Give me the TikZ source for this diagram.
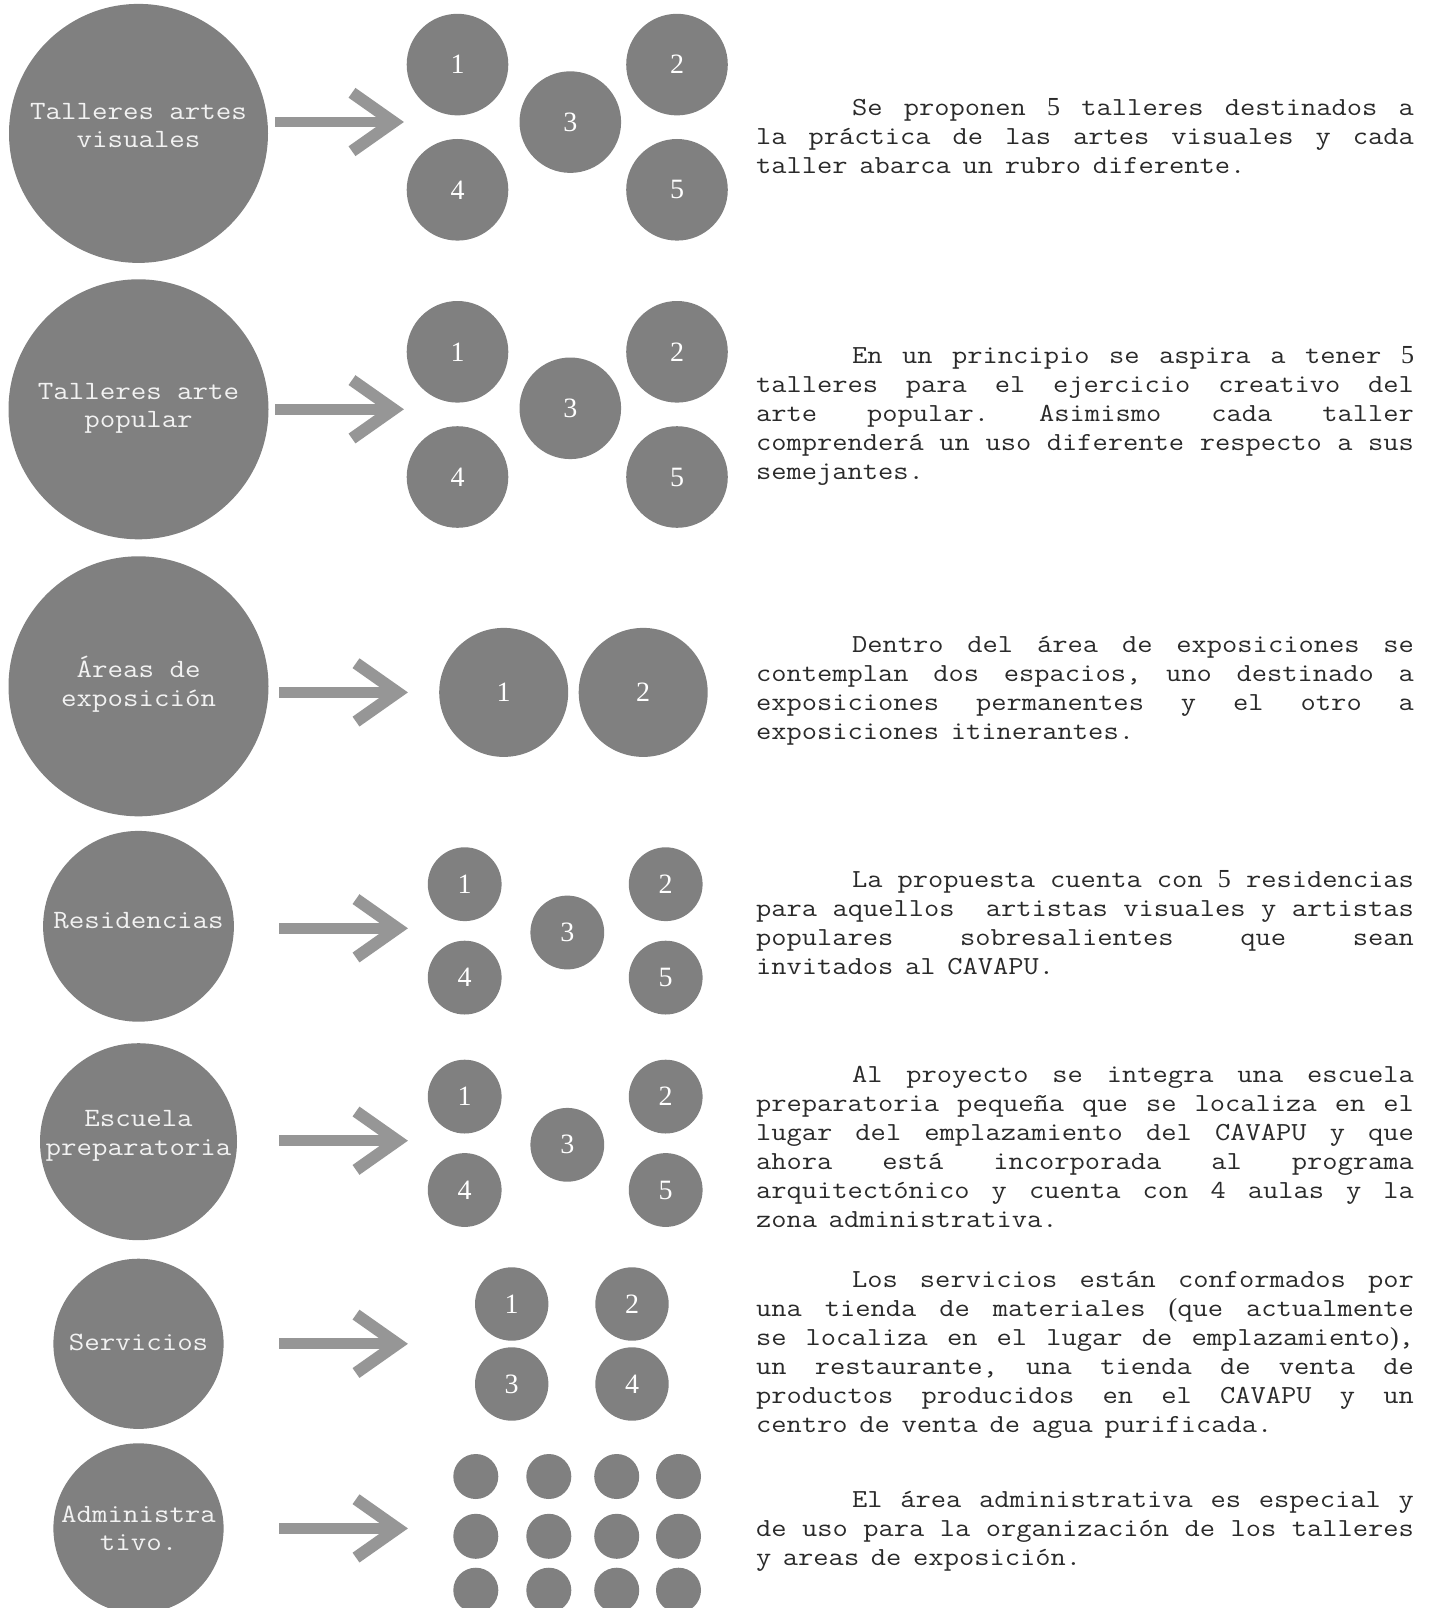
\documentclass[tikz,border=0pt]{standalone}
\usepackage{fontspec}
\usepackage{tikz}
\usepackage{xcolor}

\newfontfamily\couriertext{Latin Modern Mono}[FakeStretch=1.14]
\newfontfamily\timestext{Liberation Serif}

\definecolor{bubblegray}{RGB}{128,128,128}
\definecolor{arrowgray}{RGB}{150,150,150}
\definecolor{inkgray}{RGB}{42,42,42}
\definecolor{paletext}{RGB}{242,242,242}

\newcommand{\notefont}{\couriertext\fontsize{26}{29}\selectfont\frenchspacing
  \spaceskip=11.7pt plus 78pt minus 1pt\relax\hyphenpenalty=10000\tolerance=10000 }
\newcommand{\tabind}{\hspace*{96pt}}
\newcommand{\tnum}[1]{{\timestext #1}}

\tikzset{
  bigbub/.style={circle,fill=bubblegray,inner sep=0pt,minimum size=#1},
  numbub/.style={circle,fill=bubblegray,inner sep=0pt,minimum size=#1,text=white,
    font=\timestext\fontsize{28}{28}\selectfont},
  dotbub/.style={circle,fill=bubblegray,inner sep=0pt,minimum size=45pt},
  biglabel/.style={align=center,inner sep=0pt,text=paletext,
    font=\couriertext\fontsize{26.4}{28.7}\selectfont},
  shaft/.style={draw=arrowgray,line width=10.7pt},
  barb/.style={draw=arrowgray,line width=12pt,line join=miter},
  note/.style={text width=658pt,align=justify,inner sep=0pt,text=inkgray,font=\notefont}
}

\begin{document}
\begin{tikzpicture}[x=1pt,y=-1pt]
  \useasboundingbox (0,0) rectangle (1432,1608);
  \clip (0,0) rectangle (1432,1608);

  \node[bigbub=259pt] (tav) at (138.5,133.4) {};
  \node[biglabel] (tavl) at ([yshift=8pt]tav.center) {Talleres artes\\visuales};
  \node[numbub=101.6pt] (tav1) at (457.5,64.6) {1};
  \node[numbub=101.6pt] (tav2) at (677,64.6) {2};
  \node[numbub=101.6pt] (tav3) at (570.3,122.1) {3};
  \node[numbub=101.6pt] (tav4) at (457.5,189.8) {4};
  \node[numbub=101.6pt] (tav5) at (677,189.8) {5};
  \coordinate (tavs) at (275,122);
  \coordinate (tavv) at (393.5,122);
  \draw[shaft] (tavs) -- (tavv);
  \draw[barb] (tavv) ++(-41.5,-29.2) -- (tavv) -- ++(-41.5,29.2);
  \node[note] (tavn) at (1085,135.9) {\tabind Se proponen \tnum{5} talleres destinados a\linebreak
    la práctica de las artes visuales y cada\linebreak
    taller abarca un rubro diferente.};

  \node[bigbub=260pt] (tap) at (138.5,409.3) {};
  \node[biglabel] (tapl) at ([yshift=1pt]tap.center) {Talleres arte\\popular};
  \node[numbub=101.6pt] (tap1) at (457.5,351.8) {1};
  \node[numbub=101.6pt] (tap2) at (677,351.8) {2};
  \node[numbub=101.6pt] (tap3) at (570.3,408.3) {3};
  \node[numbub=101.6pt] (tap4) at (457.5,477) {4};
  \node[numbub=101.6pt] (tap5) at (677,477) {5};
  \coordinate (taps) at (275,409.3);
  \coordinate (tapv) at (393.5,409.3);
  \draw[shaft] (taps) -- (tapv);
  \draw[barb] (tapv) ++(-41.5,-29.2) -- (tapv) -- ++(-41.5,29.2);
  \node[note] (tapn) at (1085,416) {\tabind En un principio se aspira a tener \tnum{5}\linebreak
    talleres para el ejercicio creativo del\linebreak
    arte popular. Asimismo cada taller\linebreak
    comprenderá un uso diferente respecto a sus\linebreak
    semejantes.};

  \node[bigbub=260pt] (aex) at (138.5,686.3) {};
  \node[biglabel] (aexl) at ([yshift=2pt]aex.center) {Áreas de\\exposición};
  \node[numbub=129pt] (aex1) at (503.7,692.4) {1};
  \node[numbub=129pt] (aex2) at (643.2,692.4) {2};
  \coordinate (aexs) at (279,692.4);
  \coordinate (aexv) at (397.5,692.4);
  \draw[shaft] (aexs) -- (aexv);
  \draw[barb] (aexv) ++(-41.5,-29.2) -- (aexv) -- ++(-41.5,29.2);
  \node[note] (aexn) at (1085,690.9) {\tabind Dentro del área de exposiciones se\linebreak
    contemplan dos espacios, uno destinado a\linebreak
    exposiciones permanentes y el otro a\linebreak
    exposiciones itinerantes.};

  \node[bigbub=190.8pt] (res) at (138.5,926.3) {};
  \node[biglabel] (resl) at ([yshift=6pt]res.center) {Residencias};
  \node[numbub=73.8pt] (res1) at (464.7,884.2) {1};
  \node[numbub=73.8pt] (res2) at (665.7,884.2) {2};
  \node[numbub=73.8pt] (res3) at (567.3,932.5) {3};
  \node[numbub=73.8pt] (res4) at (464.7,977.6) {4};
  \node[numbub=73.8pt] (res5) at (665.7,977.6) {5};
  \coordinate (ress) at (279,928.3);
  \coordinate (resv) at (397.5,928.3);
  \draw[shaft] (ress) -- (resv);
  \draw[barb] (resv) ++(-41.5,-29.2) -- (resv) -- ++(-41.5,29.2);
  \node[note] (resn) at (1085,922.2) {\tabind La propuesta cuenta con \tnum{5} residencias\linebreak
    para aquellos\ \ artistas visuales y artistas\linebreak
    populares sobresalientes que sean\linebreak
    invitados al CAVAPU.};

  \node[bigbub=197pt] (esc) at (138.5,1141.7) {};
  \node[biglabel] (escl) at ([yshift=6pt]esc.center) {Escuela\\preparatoria};
  \node[numbub=73.8pt] (esc1) at (464.7,1096.6) {1};
  \node[numbub=73.8pt] (esc2) at (665.7,1096.6) {2};
  \node[numbub=73.8pt] (esc3) at (567.3,1144.8) {3};
  \node[numbub=73.8pt] (esc4) at (464.7,1190) {4};
  \node[numbub=73.8pt] (esc5) at (665.7,1190) {5};
  \coordinate (escs) at (279,1140.7);
  \coordinate (escv) at (397.5,1140.7);
  \draw[shaft] (escs) -- (escv);
  \draw[barb] (escv) ++(-41.5,-29.2) -- (escv) -- ++(-41.5,29.2);
  \node[note] (escn) at (1085,1147.4) {\tabind Al proyecto se integra una escuela\linebreak
    preparatoria pequeña que se localiza en el\linebreak
    lugar del emplazamiento del CAVAPU y que\linebreak
    ahora está incorporada al programa\linebreak
    arquitectónico y cuenta con 4 aulas y la\linebreak
    zona administrativa.};

  \node[bigbub=170.2pt] (ser) at (138.5,1343.8) {};
  \node[biglabel] (serl) at ([yshift=1pt]ser.center) {Servicios};
  \node[numbub=73.4pt] (ser1) at (511.7,1304) {1};
  \node[numbub=73.4pt] (ser2) at (632,1304) {2};
  \node[numbub=73.4pt] (ser3) at (511.7,1384) {3};
  \node[numbub=73.4pt] (ser4) at (632,1384) {4};
  \coordinate (sers) at (279,1343.8);
  \coordinate (serv) at (397.5,1343.8);
  \draw[shaft] (sers) -- (serv);
  \draw[barb] (serv) ++(-41.5,-29.2) -- (serv) -- ++(-41.5,29.2);
  \node[note] (sern) at (1085,1355.1) {\tabind Los servicios están conformados por\linebreak
    una tienda de materiales \tnum{(}que actualmente\linebreak
    se localiza en el lugar de emplazamiento\tnum{)},\linebreak
    un restaurante, una tienda de venta de\linebreak
    productos producidos en el CAVAPU y un\linebreak
    centro de venta de agua purificada.};

  \node[bigbub=170.2pt] (adm) at (138.5,1528.4) {};
  \node[biglabel] (adml) at (adm.center) {Administra\\tivo.};
  \foreach \col/\x in {1/475.8,2/548.8,3/616.7,4/678.5}
    \foreach \row/\y in {1/1476.5,2/1536.3,3/1590.2}
      \node[dotbub] (adm\row\col) at (\x,\y) {};
  \coordinate (adms) at (279,1528.4);
  \coordinate (admv) at (397.5,1528.4);
  \draw[shaft] (adms) -- (admv);
  \draw[barb] (admv) ++(-41.5,-29.2) -- (admv) -- ++(-41.5,29.2);
  \node[note] (admn) at (1085,1531.5) {\tabind El área administrativa es especial y\linebreak
    de uso para la organización de los talleres\linebreak
    y areas de exposición.};
\end{tikzpicture}
\end{document}
